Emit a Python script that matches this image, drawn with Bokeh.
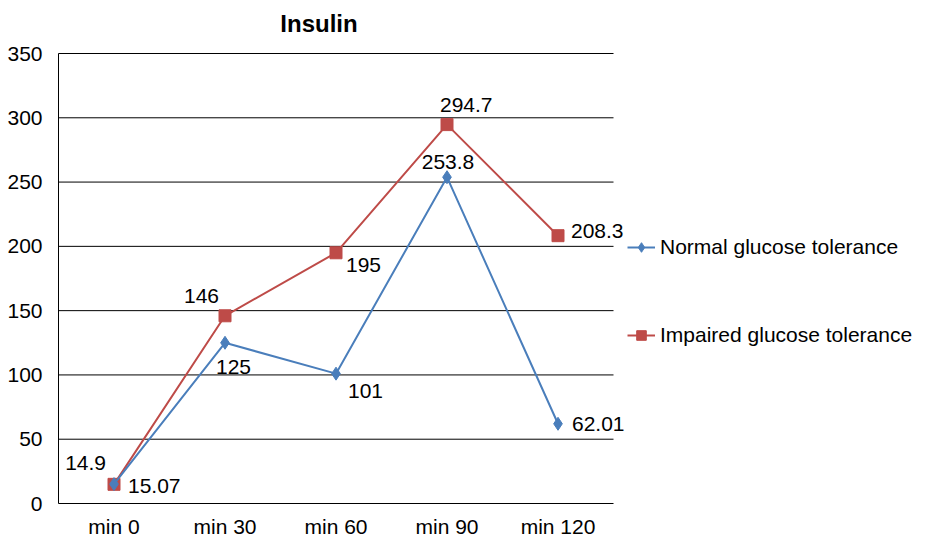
from bokeh.plotting import figure
from bokeh.models import Legend, LegendItem, Range1d, SingleIntervalTicker, ColumnDataSource, LabelSet, Label
from bokeh.core.properties import value
from bokeh.embed import file_html
from bokeh.resources import INLINE

# ---- data ----
categories = ["min 0", "min 30", "min 60", "min 90", "min 120"]
normal_values = [15.07, 125, 101, 253.8, 62.01]
impaired_values = [14.9, 146, 195, 294.7, 208.3]
normal_labels = ["15.07", "125", "101", "253.8", "62.01"]
impaired_labels = ["14.9", "146", "195", "294.7", "208.3"]
y_ticks = [0, 50, 100, 150, 200, 250, 300, 350]
series_names = ["Normal glucose tolerance", "Impaired glucose tolerance"]
title_text = "Insulin"

# ---- style / layout ----
FONT = "Liberation Sans"
BLUE = "#4A7EBB"
RED = "#BE4B48"
FS = "21px"
W, H = 917, 540
BAND = 111.0                   # px per category
Y_TOP_PX, Y_ZERO_PX = 53, 503  # screen rows of 350 and 0
PX_PER_UNIT = (Y_ZERO_PX - Y_TOP_PX) / 350.0
LEFT, TOP = 57, 0

# label placement (align, dx, dy in screen px, dy positive = down)
normal_lab_pos = [("left", 14, 2), ("left", -9, 24), ("left", 12, 17), ("center", 1, -15), ("left", 14, 0)]
impaired_lab_pos = [("right", -8, -21), ("right", -6, -20), ("left", 10, 12), ("left", -7, -20), ("left", 13, -5)]

x_pos = [i + 0.5 for i in range(len(categories))]
x_start = -1.0 / BAND
x_end = x_start + (W - LEFT) / BAND
y_end = max(y_ticks) + (Y_TOP_PX - TOP) / PX_PER_UNIT
y_start = -(H - Y_ZERO_PX) / PX_PER_UNIT

p = figure(width=W, height=H, x_range=Range1d(x_start, x_end), y_range=Range1d(y_start, y_end),
           output_backend="svg", toolbar_location=None,
           min_border_left=LEFT, min_border_right=0, min_border_top=TOP, min_border_bottom=0)
p.outline_line_color = None
p.background_fill_color = "white"
p.border_fill_color = "white"

p.xaxis.visible = False
p.xgrid.grid_line_color = None
p.ygrid.grid_line_color = None

p.yaxis.ticker = SingleIntervalTicker(interval=50)
p.yaxis.axis_line_color = None
p.yaxis.major_tick_line_color = None
p.yaxis.minor_tick_line_color = None
p.yaxis.major_tick_out = 0
p.yaxis.major_tick_in = 0
p.yaxis.major_label_text_font = FONT
p.yaxis.major_label_text_font_size = FS
p.yaxis.major_label_text_color = "black"
p.yaxis.major_label_standoff = 11

n = len(categories)

# chart title, centred over the category axis
p.add_layout(Label(x=n / 2, y=y_end, text=title_text, text_align="center", text_baseline="middle",
                   x_offset=-17, y_offset=-23, text_font=FONT, text_font_size="24px",
                   text_font_style="bold", text_color="black"))

# horizontal grid lines + left axis line, drawn through the data scales
p.segment(x0=[0] * len(y_ticks), y0=y_ticks, x1=[n] * len(y_ticks), y1=y_ticks,
          line_color="black", line_width=1)
p.segment(x0=[0], y0=[min(y_ticks)], x1=[0], y1=[max(y_ticks)], line_color="black", line_width=1)

# category labels under the axis
p.text(x=x_pos, y=[0] * n, text=categories, text_align="center", text_baseline="middle",
       y_offset=23, text_font=value(FONT), text_font_size=FS, text_color="black")

def mk_src(vals, labs, pos):
    return ColumnDataSource(dict(x=x_pos, y=vals, t=labs,
                                 al=[a for a, _, _ in pos],
                                 dx=[d for _, d, _ in pos],
                                 dy=[-d for _, _, d in pos]))

src_n = mk_src(normal_values, normal_labels, normal_lab_pos)
src_i = mk_src(impaired_values, impaired_labels, impaired_lab_pos)

rl = p.line("x", "y", source=src_i, line_color=RED, line_width=2)
rm = p.scatter("x", "y", source=src_i, marker="square", size=12, fill_color=RED, line_color=RED)
bl = p.line("x", "y", source=src_n, line_color=BLUE, line_width=2)
bm = p.scatter("x", "y", source=src_n, marker="diamond", size=13, fill_color=BLUE, line_color=BLUE)

for src in (src_n, src_i):
    ls = LabelSet(x="x", y="y", text="t", source=src, text_align="al", text_baseline="middle",
                  x_offset="dx", y_offset="dy", text_font=value(FONT), text_font_size=FS,
                  text_color="black")
    p.add_layout(ls)

legend = Legend(items=[LegendItem(label=series_names[0], renderers=[bl, bm]),
                       LegendItem(label=series_names[1], renderers=[rl, rm])],
                location=(627 - LEFT, 193), orientation="vertical",
                padding=0, margin=0, spacing=64, glyph_width=28, glyph_height=24,
                label_height=24, label_standoff=5, border_line_color=None,
                background_fill_alpha=0, label_text_font=FONT, label_text_font_size=FS,
                label_text_color="black")
p.add_layout(legend, "center")

open("out.html", "w").write(file_html(p, INLINE))
